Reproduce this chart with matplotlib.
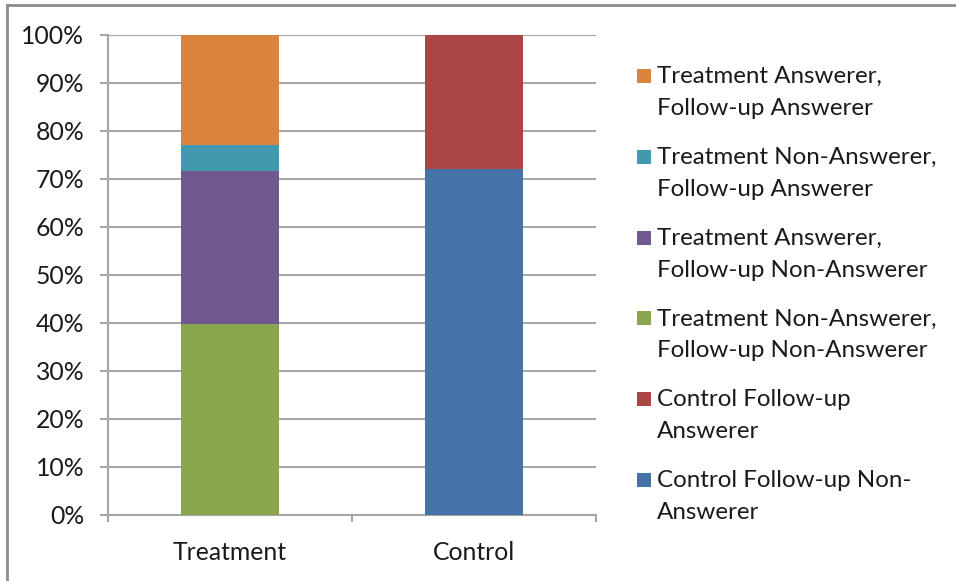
import matplotlib
matplotlib.use("Agg")
import matplotlib.pyplot as plt
from matplotlib.patches import Rectangle
from matplotlib.lines import Line2D
from matplotlib.ticker import FuncFormatter

plt.rcParams['font.family'] = ['Lato', 'DejaVu Sans']

groups = ["Treatment", "Control"]

# Stacked shares (%), bottom to top
series_labels = [
    "Control Follow-up Non-\nAnswerer",
    "Control Follow-up\nAnswerer",
    "Treatment Non-Answerer,\nFollow-up Non-Answerer",
    "Treatment Answerer,\nFollow-up Non-Answerer",
    "Treatment Non-Answerer,\nFollow-up Answerer",
    "Treatment Answerer,\nFollow-up Answerer",
]
control_nonanswer = [0.0, 72.0]
control_answer = [0.0, 28.0]
treat_non_non = [39.7, 0.0]
treat_ans_non = [32.0, 0.0]
treat_non_ans = [5.4, 0.0]
treat_ans_ans = [22.9, 0.0]

series_values = [control_nonanswer, control_answer, treat_non_non,
                 treat_ans_non, treat_non_ans, treat_ans_ans]
series_colors = ["#4572A7", "#AA4643", "#89A54E", "#71588F", "#4198AF", "#DB843D"]

W, H = 956, 581
fig = plt.figure(figsize=(W / 100, H / 100), dpi=100)
ax = fig.add_axes([108 / W, 1 - 515 / H, (596 - 108) / W, (515 - 35) / H])

grid_color = "#A6A6A6"
text_color = "#1a1a1a"
tick_size = 17.8
legend_size = 17.4

x = list(range(len(groups)))
bottom = [0.0] * len(groups)
for vals, color in zip(series_values, series_colors):
    ax.bar(x, vals, width=0.4, bottom=bottom, color=color,
           edgecolor="none", zorder=3)
    bottom = [b + v for b, v in zip(bottom, vals)]

ax.set_xlim(-0.5, 1.5)
ax.set_ylim(0, 100)
ax.set_yticks(range(0, 101, 10))
ax.yaxis.set_major_formatter(FuncFormatter(lambda v, _: f"{int(v)}%"))
ax.yaxis.grid(True, color=grid_color, linewidth=1.5, zorder=0)
ax.tick_params(axis="y", length=6, width=1.5, color=grid_color, pad=11,
               labelsize=tick_size, labelcolor=text_color)

ax.set_xticks(x)
ax.set_xticklabels(groups)
ax.tick_params(axis="x", which="major", length=0, pad=19,
               labelsize=tick_size, labelcolor=text_color)
ax.set_xticks([-0.5, 0.5, 1.5], minor=True)
ax.tick_params(axis="x", which="minor", length=5, width=1.5,
               color=grid_color, direction="out")

for side in ("top", "right"):
    ax.spines[side].set_visible(False)
for side in ("left", "bottom"):
    ax.spines[side].set_color(grid_color)
    ax.spines[side].set_linewidth(1.5)

# Legend drawn top-down, in reverse stacking order
sq = 14
row_step = 80.8
line_step = 32
top_sq = 69
for i, (label, color) in enumerate(zip(series_labels[::-1], series_colors[::-1])):
    y_top = top_sq + i * row_step
    fig.patches.append(Rectangle((637 / W, 1 - (y_top + sq) / H), sq / W, sq / H,
                                 transform=fig.transFigure, facecolor=color,
                                 edgecolor="none"))
    for j, line in enumerate(label.split("\n")):
        fig.text(657 / W, 1 - (y_top + sq + j * line_step) / H, line,
                 ha="left", va="baseline", fontsize=legend_size, color=text_color)

# Chart frame (left and top edges)
frame = "#8C8C8C"
fig.add_artist(Line2D([7 / W, 7 / W], [0, 1 - 5 / H], transform=fig.transFigure,
                      color=frame, linewidth=2))
fig.add_artist(Line2D([7 / W, 1], [1 - 5 / H, 1 - 5 / H], transform=fig.transFigure,
                      color=frame, linewidth=2))

fig.savefig("out.png", dpi=100, facecolor="white")
